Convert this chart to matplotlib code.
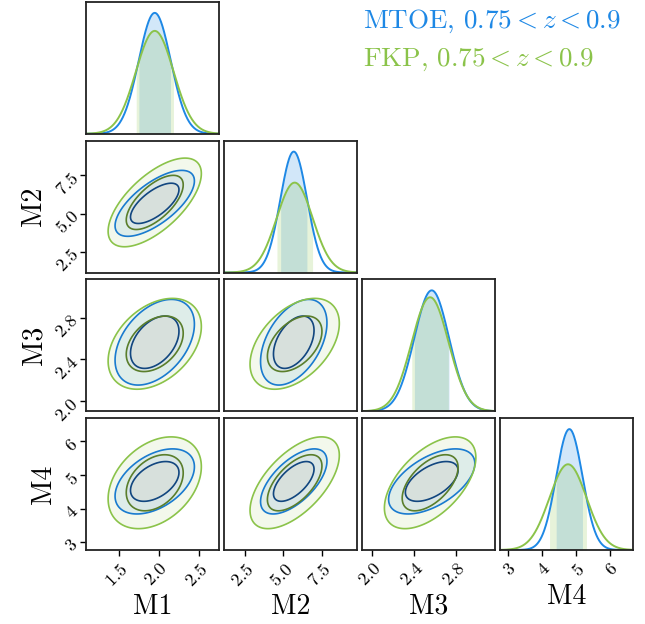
import numpy as np
import matplotlib
matplotlib.use("Agg")
import matplotlib.pyplot as plt

plt.rcParams.update({
    "font.family": "serif",
    "font.serif": ["cmr10"],
    "mathtext.fontset": "cm",
    "axes.formatter.use_mathtext": True,
})

params = ["M1", "M2", "M3", "M4"]

# Gaussian summaries of the two chains
mtoe_mean = [1.95, 5.67, 2.565, 4.81]
mtoe_sigma = [0.20, 0.87, 0.165, 0.39]
mtoe_corr = [[1.00, 0.68, 0.42, 0.45],
             [0.68, 1.00, 0.45, 0.62],
             [0.42, 0.45, 1.00, 0.55],
             [0.45, 0.62, 0.55, 1.00]]

fkp_mean = [1.95, 5.73, 2.55, 4.77]
fkp_sigma = [0.235, 1.17, 0.175, 0.55]
fkp_corr = [[1.00, 0.65, 0.38, 0.35],
            [0.65, 1.00, 0.45, 0.60],
            [0.38, 0.45, 1.00, 0.55],
            [0.35, 0.60, 0.55, 1.00]]

chain_names = ["MTOE, $0.75 < z < 0.9$", "FKP, $0.75 < z < 0.9$"]

extents = [(1.09, 2.75), (1.14, 9.77), (1.905, 3.165), (2.77, 6.69)]
ticks = [[1.5, 2.0, 2.5], [2.5, 5.0, 7.5], [2.0, 2.4, 2.8], [3, 4, 5, 6]]

# colours: main, outer contour, inner contour and the two fill shades
styles = [
    dict(main="#1E88E5", outer="#1A7BCF", inner="#12467F", fill_outer="#1E88E5", fill_inner="#0D3C78"),
    dict(main="#8BC34A", outer="#8BC34A", inner="#5A7E2C", fill_outer="#8BC34A", fill_inner="#5A8228"),
]

# 68.3% and 95.4% enclosed probability for a 2D gaussian
r2_levels = [-2 * np.log(1 - 0.683), -2 * np.log(1 - 0.954)]

chains = [(mtoe_mean, mtoe_sigma, np.array(mtoe_corr)),
          (fkp_mean, fkp_sigma, np.array(fkp_corr))]

fig, axes = plt.subplots(4, 4, figsize=(6.45, 6.24), dpi=100)
fig.subplots_adjust(left=86 / 645, right=633 / 645, bottom=1 - 550 / 624, top=1 - 2 / 624,
                    wspace=0.041, hspace=0.053)

n = len(params)
for i in range(n):
    for j in range(n):
        ax = axes[i, j]
        if j > i:
            ax.set_axis_off()
            continue
        for sp in ax.spines.values():
            sp.set_linewidth(1.3)
            sp.set_color("#222222")
        if i == j:
            x = np.linspace(*extents[i], 400)
            peak = 0
            for (mu, sig, _), st in zip(chains, styles):
                pdf = np.exp(-0.5 * ((x - mu[i]) / sig[i]) ** 2) / (sig[i] * np.sqrt(2 * np.pi))
                peak = max(peak, pdf.max())
                band = (x >= mu[i] - sig[i]) & (x <= mu[i] + sig[i])
                ax.fill_between(x, 0, pdf, where=band, color=st["main"], alpha=0.2, lw=0)
                ax.plot(x, pdf, color=st["main"], lw=1.4)
            ax.set_ylim(0, peak * 1.09)
            ax.set_yticks([])
        else:
            gx = np.linspace(*extents[j], 300)
            gy = np.linspace(*extents[i], 300)
            X, Y = np.meshgrid(gx, gy)
            for (mu, sig, corr), st in zip(chains, styles):
                cov = np.array([[sig[j] ** 2, corr[j, i] * sig[j] * sig[i]],
                                [corr[j, i] * sig[j] * sig[i], sig[i] ** 2]])
                inv = np.linalg.inv(cov)
                dx, dy = X - mu[j], Y - mu[i]
                d2 = inv[0, 0] * dx ** 2 + 2 * inv[0, 1] * dx * dy + inv[1, 1] * dy ** 2
                ax.contourf(X, Y, d2, levels=[0, r2_levels[0], r2_levels[1]],
                            colors=[st["fill_inner"], st["fill_outer"]], alpha=0.1)
                ax.contour(X, Y, d2, levels=r2_levels, colors=[st["inner"], st["outer"]],
                           linewidths=1.2)
            ax.set_ylim(*extents[i])
            if j == 0:
                ax.set_yticks(ticks[i])
                ax.set_ylabel(params[i], fontsize=20, labelpad=4)
            else:
                ax.set_yticks([])
        ax.set_xlim(*extents[j])
        if i == n - 1:
            ax.set_xticks(ticks[j])
            ax.set_xlabel(params[j], fontsize=20, labelpad=3)
        else:
            ax.set_xticks([])
        ax.tick_params(labelsize=13, length=4, width=1, labelrotation=45)
        for lab in ax.get_xticklabels():
            lab.set_ha("right")
            lab.set_va("top")
            lab.set_rotation_mode("anchor")
        for lab in ax.get_yticklabels():
            lab.set_ha("right")
            lab.set_va("center")
            lab.set_rotation_mode("anchor")

for k, (name, st) in enumerate(zip(chain_names, styles)):
    fig.text(363 / 645, 1 - (21 + 39 * k) / 624, name, color=st["main"], fontsize=19.5,
             ha="left", va="center")

fig.savefig("out.png", dpi=100)
